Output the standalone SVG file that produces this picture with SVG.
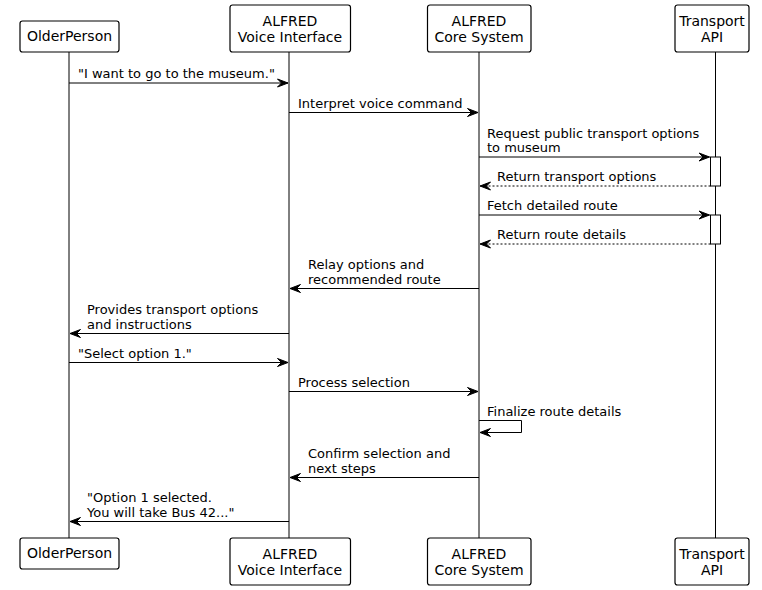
<svg xmlns="http://www.w3.org/2000/svg" width="762" height="590" viewBox="0 0 762 590">
<style>
.box{fill:#fff;stroke:#000;stroke-width:1.2}
.life{stroke:#000;stroke-width:1}
.msg{stroke:#000;stroke-width:1;fill:none}
.dash{stroke-dasharray:2,2}
.pt{font-family:"DejaVu Sans",sans-serif;font-size:14px;fill:#000;text-anchor:middle}
.mt{font-family:"DejaVu Sans",sans-serif;font-size:13px;fill:#000}
.act{fill:#fff;stroke:#000;stroke-width:1}
</style>
<defs>
<marker id="ah" viewBox="-1 -1 13 10" refX="10.5" refY="4" markerWidth="13" markerHeight="10" markerUnits="userSpaceOnUse" orient="auto">
<polygon points="0,0 10.5,4 0,8 4,4" fill="#000" stroke="#000" stroke-width="1" stroke-linejoin="miter"/>
</marker>
</defs>
<rect width="762" height="590" fill="#fff"/>
<g id="lifelines">
<line class="life" x1="69" y1="52" x2="69" y2="538"/>
<line class="life" x1="289" y1="52" x2="289" y2="538"/>
<line class="life" x1="479" y1="52" x2="479" y2="538"/>
<line class="life" x1="715.5" y1="52" x2="715.5" y2="538"/>
</g>
<g id="activations">
<rect class="act" x="710.5" y="157" width="10" height="29"/>
<rect class="act" x="710.5" y="215" width="10" height="29"/>
</g>
<g id="p-older">
<rect class="box" x="20" y="21" width="99" height="31" rx="2.5"/>
<text class="pt" x="69.5" y="41">OlderPerson</text>
</g>
<g id="p-voice">
<rect class="box" x="230" y="5" width="120.5" height="47" rx="2.5"/>
<text class="pt" x="290" y="25.5">ALFRED</text>
<text class="pt" x="290" y="41.5">Voice Interface</text>
</g>
<g id="p-core">
<rect class="box" x="427.5" y="5" width="103.5" height="47" rx="2.5"/>
<text class="pt" x="479" y="25.5">ALFRED</text>
<text class="pt" x="479" y="41.5">Core System</text>
</g>
<g id="p-api">
<rect class="box" x="675" y="5" width="74" height="47" rx="2.5"/>
<text class="pt" x="712" y="25.5">Transport</text>
<text class="pt" x="712" y="41.5">API</text>
</g>
<g id="p-older-b">
<rect class="box" x="20" y="538" width="99" height="31" rx="2.5"/>
<text class="pt" x="69.5" y="558">OlderPerson</text>
</g>
<g id="p-voice-b">
<rect class="box" x="230" y="538" width="120.5" height="47" rx="2.5"/>
<text class="pt" x="290" y="558.5">ALFRED</text>
<text class="pt" x="290" y="574.5">Voice Interface</text>
</g>
<g id="p-core-b">
<rect class="box" x="427.5" y="538" width="103.5" height="47" rx="2.5"/>
<text class="pt" x="479" y="558.5">ALFRED</text>
<text class="pt" x="479" y="574.5">Core System</text>
</g>
<g id="p-api-b">
<rect class="box" x="675" y="538" width="74" height="47" rx="2.5"/>
<text class="pt" x="712" y="558.5">Transport</text>
<text class="pt" x="712" y="574.5">API</text>
</g>
<g id="connectors">
<line class="msg" x1="69" y1="83" x2="288" y2="83" marker-end="url(#ah)"/>
<line class="msg" x1="289" y1="112.5" x2="478" y2="112.5" marker-end="url(#ah)"/>
<line class="msg" x1="479" y1="157" x2="709.5" y2="157" marker-end="url(#ah)"/>
<line class="msg dash" x1="710.5" y1="186" x2="480" y2="186" marker-end="url(#ah)"/>
<line class="msg" x1="479" y1="215" x2="709.5" y2="215" marker-end="url(#ah)"/>
<line class="msg dash" x1="710.5" y1="244" x2="480" y2="244" marker-end="url(#ah)"/>
<line class="msg" x1="479" y1="288.5" x2="290" y2="288.5" marker-end="url(#ah)"/>
<line class="msg" x1="289" y1="333.5" x2="70" y2="333.5" marker-end="url(#ah)"/>
<line class="msg" x1="69" y1="362.5" x2="288" y2="362.5" marker-end="url(#ah)"/>
<line class="msg" x1="289" y1="391.5" x2="478" y2="391.5" marker-end="url(#ah)"/>
<polyline class="msg" points="479,420.5 521.5,420.5 521.5,432.5 480,432.5" marker-end="url(#ah)"/>
<line class="msg" x1="479" y1="477.5" x2="290" y2="477.5" marker-end="url(#ah)"/>
<line class="msg" x1="289" y1="521.5" x2="70" y2="521.5" marker-end="url(#ah)"/>
</g>
<g id="labels">
<text class="mt" x="78" y="78">"I want to go to the museum."</text>
<text class="mt" x="298" y="107.5">Interpret voice command</text>
<text class="mt" x="487" y="138">Request public transport options</text>
<text class="mt" x="487" y="152">to museum</text>
<text class="mt" x="497" y="181">Return transport options</text>
<text class="mt" x="487" y="210">Fetch detailed route</text>
<text class="mt" x="497" y="239">Return route details</text>
<text class="mt" x="308" y="269">Relay options and</text>
<text class="mt" x="308" y="283.5">recommended route</text>
<text class="mt" x="87" y="314">Provides transport options</text>
<text class="mt" x="87" y="328.5">and instructions</text>
<text class="mt" x="78" y="357.5">"Select option 1."</text>
<text class="mt" x="298" y="386.5">Process selection</text>
<text class="mt" x="487" y="415.5">Finalize route details</text>
<text class="mt" x="308" y="458">Confirm selection and</text>
<text class="mt" x="308" y="472.5">next steps</text>
<text class="mt" x="87" y="502">"Option 1 selected.</text>
<text class="mt" x="87" y="516.5">You will take Bus 42..."</text>
</g>
</svg>
